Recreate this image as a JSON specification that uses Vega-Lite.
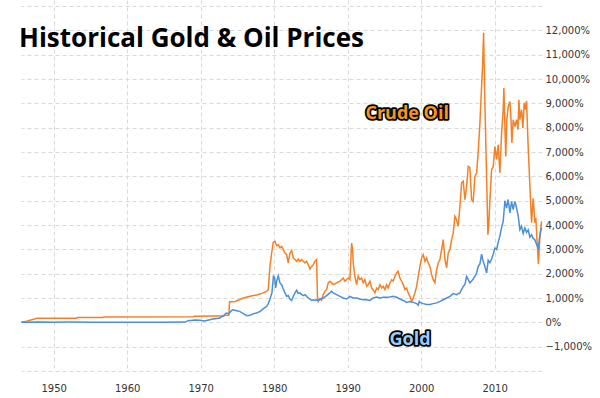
{
  "$schema": "https://vega.github.io/schema/vega-lite/v6.json",
  "width": 521,
  "height": 371,
  "autosize": {"type": "none"},
  "padding": {"left": 21, "top": 0, "right": 58, "bottom": 27},
  "background": "white",
  "config": {"view": {"stroke": null}, "axis": {"labelOverlap": false}, "axisY": {"labelOverlap": false}},
  "title": {"text": "Historical Gold & Oil Prices", "anchor": "start", "orient": "top", "frame": "group", "offset": -73, "baseline": "alphabetic", "font": "Open Sans", "fontSize": 26, "fontWeight": "bold", "color": "#000000", "dx": -2},
  "datasets": {
    "oil": [
      {"year":1945.6,"pct":0},{"year":1946.3,"pct":50},{"year":1946.9,"pct":100},{"year":1947.7,"pct":165},{"year":1953.1,"pct":168},{"year":1953.2,"pct":195},{"year":1956.7,"pct":198},{"year":1956.8,"pct":222},{"year":1969.0,"pct":225},{"year":1969.1,"pct":255},{"year":1971.5,"pct":258},{"year":1972.9,"pct":260},{"year":1973.54,"pct":290},{"year":1973.85,"pct":300},{"year":1973.92,"pct":840},{"year":1974.67,"pct":860},{"year":1975.25,"pct":930},{"year":1975.8,"pct":1000},{"year":1976.71,"pct":1070},{"year":1977.62,"pct":1125},{"year":1978.52,"pct":1210},{"year":1978.98,"pct":1275},{"year":1979.2,"pct":1345},{"year":1979.43,"pct":2300},{"year":1979.66,"pct":2850},{"year":1979.88,"pct":3290},{"year":1980.11,"pct":3330},{"year":1980.34,"pct":3150},{"year":1980.56,"pct":3190},{"year":1980.79,"pct":3060},{"year":1981.02,"pct":3120},{"year":1981.24,"pct":2990},{"year":1981.47,"pct":2850},{"year":1981.7,"pct":2780},{"year":1981.92,"pct":2440},{"year":1982.15,"pct":2850},{"year":1982.38,"pct":2960},{"year":1982.6,"pct":2650},{"year":1982.83,"pct":2580},{"year":1983.06,"pct":2510},{"year":1983.28,"pct":2600},{"year":1983.51,"pct":2510},{"year":1983.74,"pct":2580},{"year":1983.96,"pct":2510},{"year":1984.19,"pct":2440},{"year":1984.42,"pct":2510},{"year":1984.64,"pct":2370},{"year":1984.87,"pct":2190},{"year":1985.1,"pct":2300},{"year":1985.32,"pct":2370},{"year":1985.55,"pct":2510},{"year":1985.78,"pct":2580},{"year":1985.89,"pct":1070},{"year":1986.0,"pct":860},{"year":1986.23,"pct":960},{"year":1986.46,"pct":900},{"year":1986.68,"pct":1140},{"year":1986.91,"pct":1275},{"year":1987.14,"pct":1345},{"year":1987.36,"pct":1620},{"year":1987.59,"pct":1690},{"year":1988.04,"pct":1550},{"year":1988.5,"pct":1620},{"year":1988.95,"pct":1690},{"year":1989.4,"pct":1820},{"year":1989.63,"pct":1690},{"year":1990.08,"pct":1820},{"year":1990.31,"pct":1755},{"year":1990.54,"pct":3260},{"year":1990.68,"pct":2990},{"year":1990.76,"pct":2440},{"year":1990.99,"pct":1890},{"year":1991.22,"pct":1550},{"year":1991.44,"pct":1890},{"year":1991.67,"pct":1755},{"year":1991.9,"pct":1820},{"year":1992.12,"pct":1620},{"year":1992.35,"pct":1755},{"year":1992.59,"pct":1480},{"year":1992.8,"pct":1550},{"year":1993.03,"pct":1690},{"year":1993.27,"pct":1410},{"year":1993.48,"pct":1345},{"year":1993.71,"pct":1210},{"year":1993.95,"pct":1410},{"year":1994.16,"pct":1345},{"year":1994.39,"pct":1550},{"year":1994.63,"pct":1410},{"year":1994.84,"pct":1480},{"year":1995.07,"pct":1345},{"year":1995.31,"pct":1550},{"year":1995.52,"pct":1410},{"year":1995.75,"pct":1620},{"year":1995.99,"pct":1755},{"year":1996.2,"pct":1690},{"year":1996.44,"pct":1890},{"year":1996.67,"pct":2030},{"year":1996.88,"pct":2100},{"year":1997.11,"pct":1820},{"year":1997.35,"pct":1690},{"year":1997.56,"pct":1550},{"year":1997.8,"pct":1345},{"year":1998.03,"pct":1410},{"year":1998.24,"pct":1210},{"year":1998.48,"pct":1070},{"year":1998.71,"pct":860},{"year":1998.93,"pct":1000},{"year":1999.16,"pct":1210},{"year":1999.39,"pct":1480},{"year":1999.6,"pct":1890},{"year":1999.84,"pct":2300},{"year":2000.07,"pct":2650},{"year":2000.29,"pct":2780},{"year":2000.52,"pct":2510},{"year":2000.75,"pct":2650},{"year":2000.97,"pct":2440},{"year":2001.2,"pct":2300},{"year":2001.43,"pct":1960},{"year":2001.65,"pct":1755},{"year":2001.88,"pct":1630},{"year":2002.11,"pct":2170},{"year":2002.33,"pct":2440},{"year":2002.56,"pct":2580},{"year":2002.79,"pct":2990},{"year":2003.01,"pct":3400},{"year":2003.24,"pct":2580},{"year":2003.47,"pct":2240},{"year":2003.69,"pct":2850},{"year":2003.92,"pct":2990},{"year":2004.15,"pct":3400},{"year":2004.37,"pct":3670},{"year":2004.6,"pct":4360},{"year":2004.82,"pct":4220},{"year":2005.05,"pct":3950},{"year":2005.28,"pct":4770},{"year":2005.51,"pct":5730},{"year":2005.73,"pct":5800},{"year":2005.96,"pct":5040},{"year":2006.19,"pct":5590},{"year":2006.41,"pct":6410},{"year":2006.63,"pct":6360},{"year":2006.87,"pct":5040},{"year":2007.09,"pct":4970},{"year":2007.32,"pct":6000},{"year":2007.55,"pct":6140},{"year":2007.77,"pct":7000},{"year":2008.0,"pct":8190},{"year":2008.23,"pct":9700},{"year":2008.37,"pct":10600},{"year":2008.5,"pct":11900},{"year":2008.68,"pct":9000},{"year":2008.91,"pct":6000},{"year":2009.09,"pct":3600},{"year":2009.22,"pct":4100},{"year":2009.36,"pct":5000},{"year":2009.59,"pct":6280},{"year":2009.81,"pct":6400},{"year":2010.04,"pct":7230},{"year":2010.27,"pct":6700},{"year":2010.49,"pct":7300},{"year":2010.72,"pct":6140},{"year":2010.95,"pct":7780},{"year":2011.17,"pct":8740},{"year":2011.26,"pct":9630},{"year":2011.4,"pct":8050},{"year":2011.52,"pct":6820},{"year":2011.66,"pct":8330},{"year":2011.85,"pct":8870},{"year":2012.08,"pct":9080},{"year":2012.21,"pct":8500},{"year":2012.35,"pct":7370},{"year":2012.53,"pct":8330},{"year":2012.76,"pct":8050},{"year":2012.99,"pct":8330},{"year":2013.17,"pct":7920},{"year":2013.31,"pct":9150},{"year":2013.44,"pct":8330},{"year":2013.67,"pct":8740},{"year":2013.85,"pct":7990},{"year":2014.03,"pct":9020},{"year":2014.16,"pct":8740},{"year":2014.35,"pct":9100},{"year":2014.53,"pct":7500},{"year":2014.8,"pct":5600},{"year":2015.03,"pct":4100},{"year":2015.25,"pct":5100},{"year":2015.48,"pct":4100},{"year":2015.61,"pct":4300},{"year":2015.71,"pct":3700},{"year":2015.96,"pct":2400},{"year":2016.16,"pct":3500},{"year":2016.39,"pct":4150}
    ],
    "gold": [
      {"year":1945.6,"pct":0},{"year":1948.0,"pct":15},{"year":1950.0,"pct":5},{"year":1952.0,"pct":10},{"year":1955.0,"pct":0},{"year":1960.0,"pct":5},{"year":1965.0,"pct":0},{"year":1967.9,"pct":10},{"year":1968.3,"pct":70},{"year":1969.3,"pct":100},{"year":1969.9,"pct":90},{"year":1970.5,"pct":60},{"year":1971.7,"pct":140},{"year":1972.6,"pct":180},{"year":1973.1,"pct":275},{"year":1973.5,"pct":385},{"year":1973.8,"pct":357},{"year":1974.2,"pct":480},{"year":1974.4,"pct":520},{"year":1974.9,"pct":480},{"year":1975.3,"pct":450},{"year":1975.8,"pct":357},{"year":1976.3,"pct":275},{"year":1976.7,"pct":290},{"year":1977.2,"pct":357},{"year":1977.6,"pct":385},{"year":1978.1,"pct":450},{"year":1978.5,"pct":550},{"year":1979.0,"pct":660},{"year":1979.2,"pct":770},{"year":1979.4,"pct":930},{"year":1979.7,"pct":1210},{"year":1979.9,"pct":1890},{"year":1980.05,"pct":1850},{"year":1980.2,"pct":1410},{"year":1980.34,"pct":1690},{"year":1980.56,"pct":1920},{"year":1980.79,"pct":1620},{"year":1981.02,"pct":1550},{"year":1981.24,"pct":1370},{"year":1981.47,"pct":1210},{"year":1981.7,"pct":1070},{"year":1981.92,"pct":1100},{"year":1982.15,"pct":960},{"year":1982.38,"pct":900},{"year":1982.6,"pct":1070},{"year":1982.83,"pct":1210},{"year":1983.06,"pct":1315},{"year":1983.28,"pct":1180},{"year":1983.51,"pct":1210},{"year":1983.74,"pct":1140},{"year":1983.96,"pct":1100},{"year":1984.19,"pct":1140},{"year":1984.42,"pct":1070},{"year":1984.64,"pct":1000},{"year":1984.87,"pct":960},{"year":1985.1,"pct":900},{"year":1985.32,"pct":930},{"year":1985.55,"pct":900},{"year":1985.78,"pct":930},{"year":1986.0,"pct":900},{"year":1986.23,"pct":960},{"year":1986.68,"pct":1000},{"year":1987.14,"pct":1100},{"year":1987.59,"pct":1210},{"year":1987.8,"pct":1275},{"year":1988.04,"pct":1210},{"year":1988.5,"pct":1140},{"year":1988.95,"pct":1070},{"year":1989.4,"pct":1000},{"year":1989.86,"pct":960},{"year":1990.31,"pct":1070},{"year":1990.76,"pct":1000},{"year":1991.22,"pct":1000},{"year":1991.67,"pct":960},{"year":1992.12,"pct":930},{"year":1992.59,"pct":930},{"year":1993.03,"pct":900},{"year":1993.48,"pct":1000},{"year":1993.95,"pct":1040},{"year":1994.39,"pct":1000},{"year":1994.84,"pct":1030},{"year":1995.31,"pct":1030},{"year":1995.75,"pct":1040},{"year":1996.2,"pct":1070},{"year":1996.67,"pct":1030},{"year":1997.11,"pct":960},{"year":1997.56,"pct":900},{"year":1998.03,"pct":820},{"year":1998.48,"pct":860},{"year":1998.93,"pct":820},{"year":1999.39,"pct":770},{"year":1999.6,"pct":700},{"year":1999.75,"pct":860},{"year":1999.84,"pct":820},{"year":2000.29,"pct":770},{"year":2000.75,"pct":730},{"year":2001.2,"pct":730},{"year":2001.65,"pct":770},{"year":2002.11,"pct":800},{"year":2002.56,"pct":860},{"year":2003.01,"pct":930},{"year":2003.47,"pct":1000},{"year":2003.92,"pct":1070},{"year":2004.37,"pct":1180},{"year":2004.82,"pct":1140},{"year":2005.28,"pct":1210},{"year":2005.73,"pct":1480},{"year":2005.96,"pct":1550},{"year":2006.19,"pct":1890},{"year":2006.41,"pct":1755},{"year":2006.63,"pct":1620},{"year":2006.87,"pct":1700},{"year":2007.09,"pct":1780},{"year":2007.32,"pct":1890},{"year":2007.55,"pct":2030},{"year":2007.77,"pct":2300},{"year":2008.0,"pct":2400},{"year":2008.23,"pct":2800},{"year":2008.45,"pct":2500},{"year":2008.68,"pct":2300},{"year":2008.91,"pct":2030},{"year":2009.13,"pct":2550},{"year":2009.36,"pct":2450},{"year":2009.59,"pct":2600},{"year":2009.81,"pct":2800},{"year":2010.04,"pct":3050},{"year":2010.27,"pct":3000},{"year":2010.49,"pct":3300},{"year":2010.72,"pct":3550},{"year":2010.95,"pct":3900},{"year":2011.17,"pct":4150},{"year":2011.4,"pct":5000},{"year":2011.63,"pct":4700},{"year":2011.85,"pct":5050},{"year":2012.08,"pct":4500},{"year":2012.31,"pct":4970},{"year":2012.53,"pct":4630},{"year":2012.76,"pct":4970},{"year":2012.99,"pct":4700},{"year":2013.22,"pct":4360},{"year":2013.44,"pct":3810},{"year":2013.67,"pct":3950},{"year":2013.89,"pct":3650},{"year":2014.12,"pct":3880},{"year":2014.35,"pct":3700},{"year":2014.57,"pct":3800},{"year":2014.8,"pct":3500},{"year":2015.03,"pct":3600},{"year":2015.25,"pct":3450},{"year":2015.48,"pct":3400},{"year":2015.71,"pct":3200},{"year":2015.96,"pct":3050},{"year":2016.16,"pct":3600},{"year":2016.39,"pct":3900}
    ],
    "labels": [
      {"year":1998.1,"pct":8580,"label":"Crude Oil","series":"oil"},
      {"year":1998.5,"pct":-711,"label":"Gold","series":"gold"}
    ]
  },
  "encoding": {
    "x": {"field": "year", "type": "quantitative",
      "scale": {"domain": [1945.55, 2016.45], "nice": false, "zero": false},
      "axis": {"values": [1950,1960,1970,1980,1990,2000,2010], "format": "d", "title": null, "grid": true, "gridDash": [4,3], "gridColor": "#d9d9d9", "domain": false, "ticks": false, "labelFont": "DejaVu Sans", "labelFontSize": 10, "labelColor": "#333333", "labelPadding": 12, "labelFlush": false, "labelOverlap": false}},
    "y": {"field": "pct", "type": "quantitative",
      "scale": {"domain": [-2000, 13250], "nice": false, "zero": false},
      "axis": {"orient": "right", "values": [-2000,-1000,0,1000,2000,3000,4000,5000,6000,7000,8000,9000,10000,11000,12000,13000], "labelExpr": "datum.value < -1500 || datum.value > 12500 ? '' : format(datum.value, ',') + '%'", "title": null, "grid": true, "gridDash": [4,3], "gridColor": "#d9d9d9", "domain": false, "ticks": false, "labelFont": "DejaVu Sans", "labelFontSize": 10, "labelColor": "#333333", "labelPadding": 3, "labelFlush": false, "labelOverlap": false, "labelBound": false}}
  },
  "layer": [
    {
      "data": {"name": "oil"},
      "mark": {"type": "line", "color": "#f58025", "strokeWidth": 1.5}
    },
    {
      "data": {"name": "gold"},
      "mark": {"type": "line", "color": "#4a8fd8", "strokeWidth": 1.5}
    },
    {
      "data": {"name": "labels"},
      "mark": {"type": "text", "font": "Open Sans", "fontSize": 18, "fontWeight": "bold", "align": "center", "baseline": "middle", "stroke": "#000000", "strokeWidth": 3.5, "strokeJoin": "round", "fill": "#000000"},
      "encoding": {
        "text": {"field": "label"}
      }
    },
    {
      "data": {"name": "labels"},
      "mark": {"type": "text", "font": "Open Sans", "fontSize": 18, "fontWeight": "bold", "align": "center", "baseline": "middle"},
      "encoding": {
        "text": {"field": "label"},
        "color": {"field": "series", "type": "nominal", "scale": {"domain": ["oil", "gold"], "range": ["#f7941e", "#9dcbf7"]}, "legend": null}
      }
    }
  ]
}
